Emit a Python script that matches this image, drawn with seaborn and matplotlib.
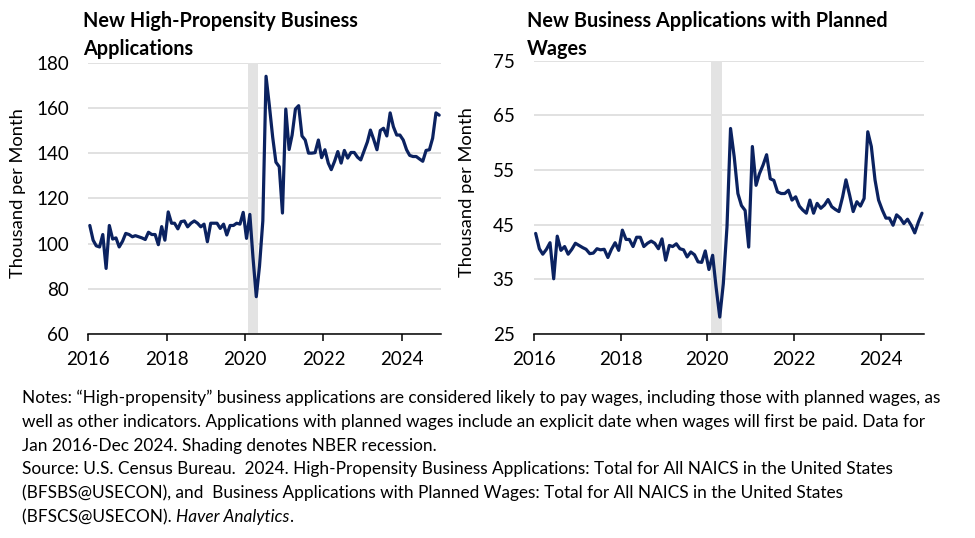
import pandas as pd
import matplotlib.pyplot as plt
import matplotlib.dates as mdates
import seaborn as sns

# Monthly data, Jan 2016 - Dec 2024 (thousands per month)
months = pd.date_range('2016-01-01', '2024-12-01', freq='MS') + pd.Timedelta(days=14)

high_propensity = [
    108, 101.5, 99, 98.5, 104, 89, 108, 102, 102.5, 98.5, 101, 104.5,
    104, 103, 103.5, 103, 102.5, 101.8, 105, 104, 104, 99.5, 107.5, 101.5,
    114, 109, 109, 106.5, 109.7, 110, 107.4, 109, 110, 109, 107.4, 108.6,
    100.8, 109, 109, 109, 106.7, 108.6, 103.8, 108, 108, 109, 108.6, 113.8,
    102.3, 112.9, 94, 76.5, 90, 110, 174, 161, 147, 136, 134, 113.5,
    159.5, 141.6, 148, 159.5, 161, 147.6, 145.8, 140, 140, 140.2, 145.8, 138,
    141.5, 135.6, 132.7, 136.4, 140.7, 135.6, 141.2, 137.8, 140.3, 140.3, 138.2, 137,
    141, 145, 150.2, 146, 141.5, 150, 151, 147.6, 157.8, 151.7, 148, 148,
    145.8, 141.5, 139, 138.5, 138.5, 137.4, 136.4, 141.2, 141.5, 146.6, 157.8, 156.8,
]

planned_wages = [
    43.4, 40.6, 39.6, 40.5, 41.7, 35.1, 42.9, 40.3, 41, 39.6, 40.5, 41.6,
    41.2, 40.8, 40.5, 39.7, 39.8, 40.6, 40.4, 40.5, 39, 40.5, 41.7, 40.3,
    44, 42.3, 42.3, 41, 42.7, 42.7, 41, 41.6, 42, 41.6, 40.6, 42.4,
    38.5, 41.2, 41, 41.5, 40.6, 40.4, 39.1, 40, 39.5, 38.2, 38.1, 40.2,
    36.8, 39.4, 33.6, 28.1, 34.2, 44.6, 62.6, 57.4, 50.7, 48.5, 47.6, 40.9,
    59.3, 52.2, 54.3, 55.9, 57.8, 53.4, 53.1, 51, 50.7, 50.7, 51.3, 49.5,
    50.1, 48.4, 47.7, 47.1, 49.5, 47.1, 48.9, 48, 48.6, 49.6, 48.3, 47.8,
    47.4, 50.1, 53.2, 50.4, 47.4, 49.2, 48.4, 49.8, 62, 59.3, 53.2, 49.5,
    47.7, 46.2, 46.2, 44.9, 46.8, 46.2, 45.2, 46, 44.9, 43.5, 45.5, 47.1,
]

recession = ('2020-02-01', '2020-05-01')

notes_lines = [
    'Notes: \u201cHigh-propensity\u201d business applications are considered likely to pay wages, including those with planned wages, as',
    'well as other indicators. Applications with planned wages include an explicit date when wages will first be paid. Data for',
    'Jan 2016-Dec 2024. Shading denotes NBER recession.',
    'Source: U.S. Census Bureau.  2024. High-Propensity Business Applications: Total for All NAICS in the United States',
    '(BFSBS@USECON), and  Business Applications with Planned Wages: Total for All NAICS in the United States',
    '(BFSCS@USECON). ',
]

sns.set_style('white')
plt.rcParams['font.family'] = ['Lato', 'DejaVu Sans']

navy = '#0b2260'
W, H = 975, 538


def draw_panel(ax, values, ylim, yticks, title_lines, title_x, ylabel_x):
    df = pd.DataFrame({'date': months, 'value': values})
    ax.axvspan(pd.Timestamp(recession[0]), pd.Timestamp(recession[1]),
               color='#e3e3e3', lw=0, zorder=1)
    sns.lineplot(data=df, x='date', y='value', ax=ax, color=navy, lw=2.3, zorder=3)
    ax.set_xlim(pd.Timestamp('2016-01-01'), pd.Timestamp('2025-01-01'))
    ax.set_ylim(*ylim)
    ax.set_yticks(yticks)
    ax.grid(axis='y', color='#d9d9d9', lw=1.1)
    ax.set_axisbelow(True)
    ax.xaxis.set_major_locator(mdates.YearLocator(2))
    ax.xaxis.set_major_formatter(mdates.DateFormatter('%Y'))
    for side in ['top', 'right', 'left']:
        ax.spines[side].set_visible(False)
    ax.spines['bottom'].set_color('black')
    ax.spines['bottom'].set_linewidth(1.1)
    ax.tick_params(axis='x', direction='out', length=5, width=1.1, pad=7,
                   labelsize=13.5, colors='black', bottom=True)
    ax.tick_params(axis='y', length=0, pad=14, labelsize=13.5, colors='black')
    ax.set_xlabel('')
    ax.set_ylabel('Thousand per Month', fontsize=13.2, color='black')
    ax.yaxis.set_label_coords(ylabel_x, 0.52)
    for i, line in enumerate(title_lines):
        fig.text(title_x / W, 1 - (27.3 + 27.7 * i) / H, line, fontsize=14.3,
                 fontweight='bold', ha='left', va='baseline', color='black')


fig = plt.figure(figsize=(9.75, 5.38), dpi=100)
ax1 = fig.add_axes([88.3 / W, 1 - 334 / H, (441 - 88.3) / W, (334 - 62.7) / H])
ax2 = fig.add_axes([534 / W, 1 - 334 / H, (924 - 534) / W, (334 - 60.7) / H])

draw_panel(ax1, high_propensity, (60, 180), range(60, 181, 20),
           ['New High-Propensity Business', 'Applications'], 82.7, -0.178)
draw_panel(ax2, planned_wages, (25, 75), range(25, 76, 10),
           ['New Business Applications with Planned', 'Wages'], 527, -0.152)

# Notes block, sized so the first line spans the same width as the reference
note_texts = []
for i, line in enumerate(notes_lines):
    t = fig.text(22 / W, 1 - (403 + 23.8 * i) / H, line, fontsize=12,
                 ha='left', va='baseline', color='black')
    note_texts.append(t)

renderer = fig.canvas.get_renderer()
width = note_texts[0].get_window_extent(renderer).width
fs = 12 * 913 / width
for t in note_texts:
    t.set_fontsize(fs)
last = note_texts[-1].get_window_extent(renderer)
fig.text(last.x1 / W, 1 - (403 + 23.8 * 5) / H, 'Haver Analytics', fontsize=fs,
         style='italic', ha='left', va='baseline', color='black')
hav = fig.texts[-1].get_window_extent(renderer)
fig.text(hav.x1 / W, 1 - (403 + 23.8 * 5) / H, '.', fontsize=fs,
         ha='left', va='baseline', color='black')

fig.savefig('out.png', dpi=100)
